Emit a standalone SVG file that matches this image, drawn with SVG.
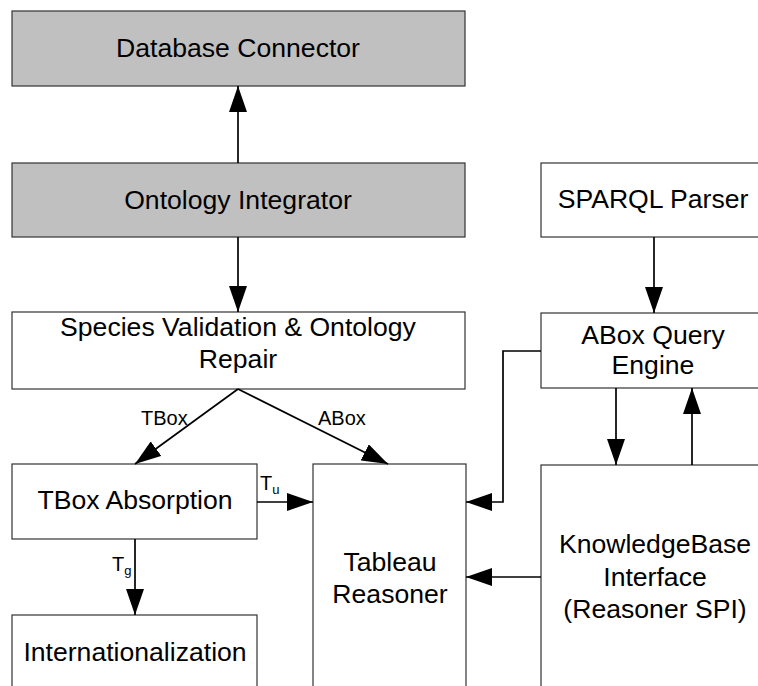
<svg xmlns="http://www.w3.org/2000/svg" width="758" height="686" viewBox="0 0 758 686">
<style>
.box{fill:#ffffff;stroke:#333333;stroke-width:1.2}
.gray{fill:#c0c0c0;stroke:#333333;stroke-width:1.2}
.t{font-family:"Liberation Sans",Arial,sans-serif;font-size:26.6px;fill:#000;text-anchor:middle}
.lbl{font-family:"Liberation Sans",Arial,sans-serif;font-size:20px;fill:#000}
.sub{font-size:13px}
.c{fill:none;stroke:#000;stroke-width:1.7}
</style>
<defs>
<marker id="ah" markerUnits="userSpaceOnUse" markerWidth="27" markerHeight="18" refX="26" refY="9" orient="auto">
<path d="M0,0 L26,9 L0,18 z" fill="#000"/>
</marker>
</defs>
<rect width="758" height="686" fill="#ffffff"/>
<g id="db"><rect class="gray" x="12" y="11" width="453" height="75"/><text class="t" x="238" y="57">Database Connector</text></g>
<g id="oi"><rect class="gray" x="12" y="163" width="453" height="74"/><text class="t" x="238" y="209">Ontology Integrator</text></g>
<g id="sparql"><rect class="box" x="541" y="163" width="230" height="74"/><text class="t" x="653" y="208">SPARQL Parser</text></g>
<g id="species"><rect class="box" x="12" y="312" width="453" height="77"/><text class="t" x="238" y="336">Species Validation &amp; Ontology</text><text class="t" x="238" y="368">Repair</text></g>
<g id="aboxq"><rect class="box" x="541" y="313" width="230" height="75"/><text class="t" x="653" y="344">ABox Query</text><text class="t" x="653" y="374">Engine</text></g>
<g id="tbox"><rect class="box" x="12" y="464" width="245" height="75"/><text class="t" x="135" y="509">TBox Absorption</text></g>
<g id="tableau"><rect class="box" x="313" y="464" width="153" height="240"/><text class="t" x="390" y="571">Tableau</text><text class="t" x="390" y="603">Reasoner</text></g>
<g id="kb"><rect class="box" x="541" y="465" width="230" height="240"/><text class="t" x="655" y="553">KnowledgeBase</text><text class="t" x="655" y="586">Interface</text><text class="t" x="655" y="618">(Reasoner SPI)</text></g>
<g id="intl"><rect class="box" x="12" y="615" width="245" height="90"/><text class="t" x="135" y="661">Internationalization</text></g>
<g id="connectors">
<line class="c" x1="238" y1="163" x2="238" y2="86" marker-end="url(#ah)"/>
<line class="c" x1="238" y1="237" x2="238" y2="312" marker-end="url(#ah)"/>
<line class="c" x1="654" y1="237" x2="654" y2="313" marker-end="url(#ah)"/>
<line class="c" x1="238" y1="389" x2="135" y2="464" marker-end="url(#ah)"/>
<line class="c" x1="238" y1="389" x2="388" y2="464" marker-end="url(#ah)"/>
<polyline class="c" points="541,351 503,351 503,502 466,502" marker-end="url(#ah)"/>
<line class="c" x1="616" y1="388" x2="616" y2="465" marker-end="url(#ah)"/>
<line class="c" x1="692" y1="465" x2="692" y2="388" marker-end="url(#ah)"/>
<line class="c" x1="541" y1="577" x2="466" y2="577" marker-end="url(#ah)"/>
<line class="c" x1="257" y1="502" x2="313" y2="502" marker-end="url(#ah)"/>
<line class="c" x1="135" y1="539" x2="135" y2="615" marker-end="url(#ah)"/>
<text class="lbl" x="141" y="425">TBox</text>
<text class="lbl" x="318" y="425">ABox</text>
<text class="lbl" x="260" y="490">T<tspan class="sub" dy="4">u</tspan></text>
<text class="lbl" x="112" y="571">T<tspan class="sub" dy="4">g</tspan></text>
</g>
</svg>
